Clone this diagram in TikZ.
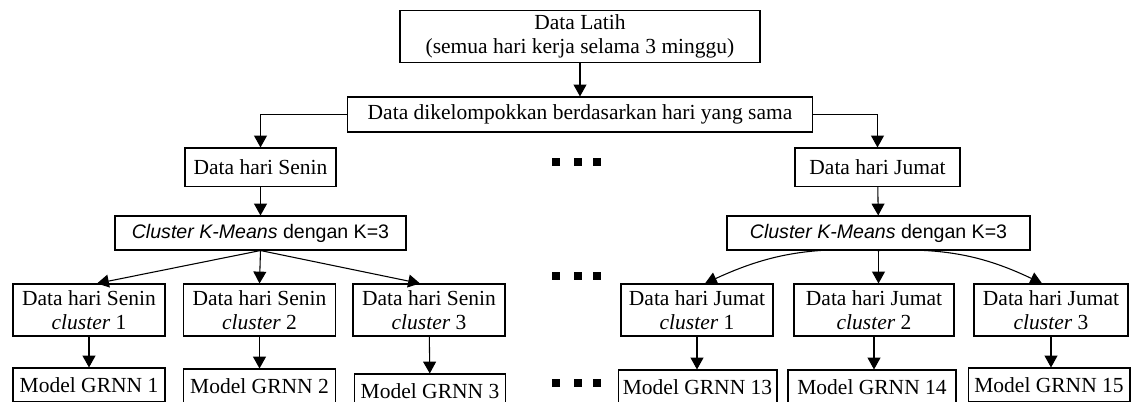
\documentclass[tikz,border=0pt]{standalone}
\usepackage{fontspec}
\setmainfont{Liberation Serif}
\setsansfont{Liberation Sans}
\usetikzlibrary{arrows.meta,positioning,calc}
\tikzset{
  box/.style={rectangle, draw=black, line width=0.5pt, fill=white, align=center,
              inner sep=0pt, font=\fontsize{10}{11}\selectfont},
  kbox/.style={box, font=\sffamily\fontsize{9.1}{11}\selectfont,
               minimum height=15.8pt},
  daybox/.style={box, minimum height=17.7pt},
  cbox/.style={box, minimum width=70.7pt, minimum height=24.2pt},
  mbox/.style={box, minimum height=15.8pt},
  ar/.style={-{Triangle[length=5.5pt, width=6pt]}, line width=0.5pt},
}

\begin{document}
\begin{tikzpicture}[x=0.465pt, y=-0.465pt]
  \useasboundingbox (0,0) rectangle (1132,401);
  \clip (0,0) rectangle (1132,401);

  % ============ training data and grouping per day ============
  \node[box, minimum width=167.4pt, minimum height=24.6pt] (latih) at (580,36.5)
    {Data Latih\\ (semua hari kerja selama 3 minggu)};
  \node[box, minimum width=215.8pt, minimum height=16.3pt] (grup) at (580,114.5)
    {Data dikelompokkan berdasarkan hari yang sama};
  \draw[ar] (latih) -- (grup);

  \node[daybox, minimum width=70.2pt] (senin) at (260.5,167) {Data hari Senin};
  \node[daybox, minimum width=76.7pt] (jumat) at (877.5,167) {Data hari Jumat};
  \draw[ar] (grup.west) -| (senin.north);
  \draw[ar] (grup.east) -| (jumat.north);

  % ============ k-means per day ============
  \node[kbox, minimum width=135.3pt] (kmL) at (260.5,233)
    {\textit{Cluster K-Means} dengan K=3};
  \node[kbox, minimum width=140.9pt] (kmR) at (878.5,233)
    {\textit{Cluster K-Means} dengan K=3};
  \draw[ar] (senin) -- (kmL);
  \draw[ar] (jumat) -- (kmR);

  % ============ clusters: Senin ============
  \node[cbox] (sn1) at (89,310)    {Data hari Senin\\ \textit{cluster} 1};
  \node[cbox] (sn2) at (259.5,310) {Data hari Senin\\ \textit{cluster} 2};
  \node[cbox] (sn3) at (429,310)   {Data hari Senin\\ \textit{cluster} 3};
  \draw[ar] (kmL.south) -- ($(sn1.north)+(8,0)$);
  \draw[ar] (kmL.south) -- (sn2.north);
  \draw[ar] (kmL.south) -- ($(sn3.north)+(-9,0)$);

  % ============ clusters: Jumat ============
  \node[cbox] (jm1) at (697,310) {Data hari Jumat\\ \textit{cluster} 1};
  \node[cbox, minimum width=74.4pt] (jm2) at (874,310)
    {Data hari Jumat\\ \textit{cluster} 2};
  \node[cbox, minimum width=71.6pt] (jm3) at (1051,310)
    {Data hari Jumat\\ \textit{cluster} 3};
  \draw[ar] (kmR.south) to[bend right=14] ($(jm1.north)+(8,0)$);
  \draw[ar] (kmR.south) -- (kmR.south |- jm2.north);
  \draw[ar] (kmR.south) to[bend left=14] ($(jm3.north)+(-9,0)$);

  % ============ one GRNN model per cluster ============
  \node[mbox, minimum width=70.7pt] (gr1) at (89,385)    {Model GRNN 1};
  \node[mbox, minimum width=71.1pt] (gr2) at (259.5,386) {Model GRNN 2};
  \node[mbox, minimum width=69.8pt] (gr3) at (430,391)   {Model GRNN 3};
  \node[mbox, minimum width=73.9pt] (gr13) at (697.5,387) {Model GRNN 13};
  \node[mbox, minimum width=78.1pt] (gr14) at (872,387)   {Model GRNN 14};
  \node[mbox, minimum width=75.3pt] (gr15) at (1049,385)  {Model GRNN 15};
  \draw[ar] (sn1) -- (gr1);
  \draw[ar] (sn2) -- (gr2);
  \draw[ar] (sn3) -- (gr3);
  \draw[ar] (jm1) -- (jm1 |- gr13.north);
  \draw[ar] (jm2) -- (jm2 |- gr14.north);
  \draw[ar] (jm3) -- (jm3 |- gr15.north);

  % the days in between (Selasa .. Kamis)
  \foreach \y in {162,276,383}
    \foreach \x in {556,578,597}
      \fill (\x-4,\y-4) rectangle ++(8,8);

\end{tikzpicture}
\end{document}
